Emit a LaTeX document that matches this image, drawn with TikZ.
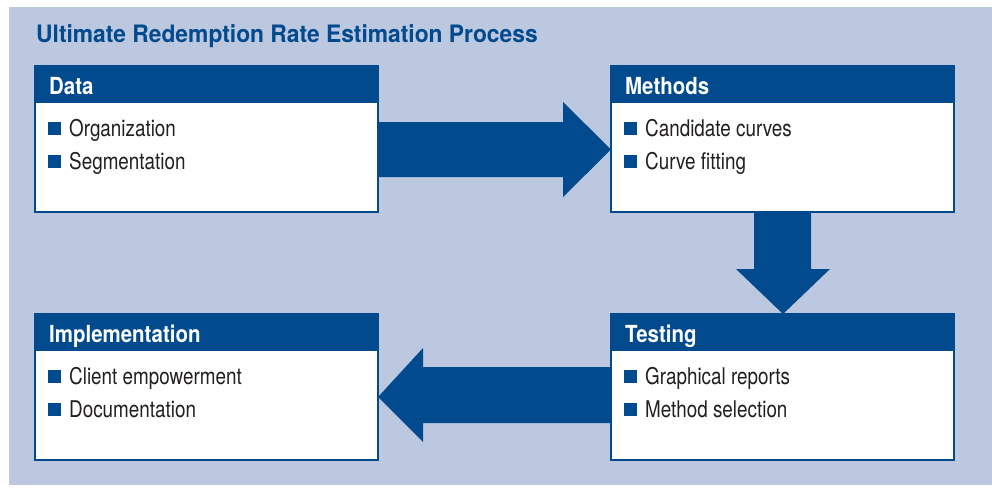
\documentclass[tikz,border=0pt]{standalone}
\usepackage{fontspec}
\setmainfont{TeX Gyre Heros}[FakeStretch=0.82]
\newfontfamily\titlefont{TeX Gyre Heros}[FakeStretch=0.95]
\newfontfamily\headfont{TeX Gyre Heros}[FakeStretch=0.87]

\definecolor{navy}{RGB}{0,74,141}
\definecolor{bgblue}{RGB}{188,199,224}
\definecolor{ink}{RGB}{35,31,32}

\tikzset{
  panel/.style={fill=bgblue},
  box/.style={draw=navy, line width=2, fill=white, minimum width=343,
    minimum height=146, inner sep=0, outer sep=0, anchor=north west},
  titletxt/.style={font=\titlefont\bfseries\fontsize{24}{25}\selectfont,
    text=navy, anchor=base west, inner sep=0},
  headtxt/.style={font=\headfont\bfseries\fontsize{23.5}{24}\selectfont,
    text=white, anchor=base west, inner sep=0},
  itemtxt/.style={font=\fontsize{23}{24}\selectfont, text=ink,
    anchor=base west, inner sep=0},
  sqbullet/.style={fill=navy, minimum size=12.5, inner sep=0, outer sep=0},
  fat/.style={fill=navy},
}

% one stage box: name, x, y, heading, first item, second item
\newcommand\stagebox[6]{%
  \node[box] (#1) at (#2,#3) {};
  \fill[navy] (#1.north west) rectangle ++(343,37);
  \node[headtxt] (#1-h) at ([shift={(14,28)}]#1.north west) {#4};
  \node[sqbullet] (#1-b1) at ([shift={(19.5,62.5)}]#1.north west) {};
  \node[itemtxt] (#1-i1) at ([shift={(34,70.5)}]#1.north west) {#5};
  \node[sqbullet] (#1-b2) at ([shift={(19.5,95.5)}]#1.north west) {};
  \node[itemtxt] (#1-i2) at ([shift={(34,103.5)}]#1.north west) {#6};
}

\begin{document}
\begin{tikzpicture}[x=1pt, y=-1pt]
  \useasboundingbox (0,0) rectangle (992,487);
  \fill[white] (0,0) rectangle (992,487);
  \fill[panel] (9,7) rectangle (992,485);

  \node[titletxt] (title) at (36,42) {Ultimate Redemption Rate Estimation Process};

  \stagebox{data}{35}{66}{Data}{Organization}{Segmentation}
  \stagebox{methods}{611}{66}{Methods}{Candidate curves}{Curve fitting}
  \stagebox{testing}{611}{314}{Testing}{Graphical reports}{Method selection}
  \stagebox{impl}{35}{314}{Implementation}{Client empowerment}{Documentation}

  % Data -> Methods
  \fill[fat] ([shift={(0,56)}]data.north east) -- ++(185,0) -- ++(0,-20)
    -- ([shift={(0,83.5)}]methods.north west) -- ++(-48,47.5) -- ++(0,-20)
    -- ++(-185,0) -- cycle;
  % Methods -> Testing
  \fill[fat] ([shift={(143,0)}]methods.south west) -- ++(0,57) -- ++(-18,0)
    -- ([shift={(172,0)}]testing.north west) -- ++(47,-45) -- ++(-19,0)
    -- ++(0,-57) -- cycle;
  % Testing -> Implementation
  \fill[fat] ([shift={(0,53)}]testing.north west) -- ++(-188,0) -- ++(0,-19)
    -- ([shift={(0,83)}]impl.north east) -- ++(45,45) -- ++(0,-19)
    -- ++(188,0) -- cycle;
\end{tikzpicture}
\end{document}
